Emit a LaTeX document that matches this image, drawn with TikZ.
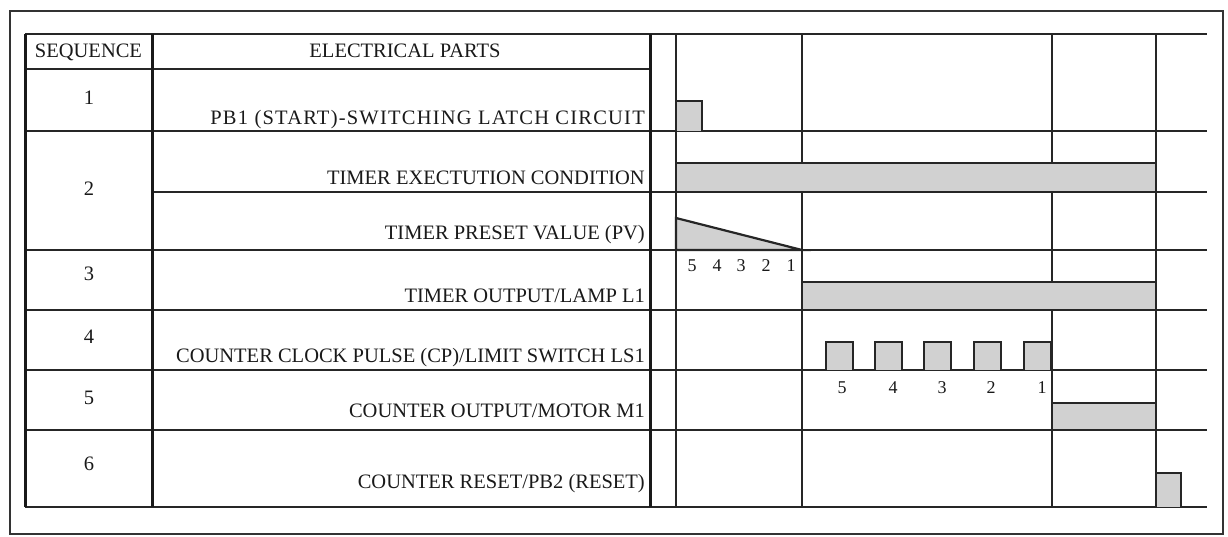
\documentclass[tikz,border=0pt]{standalone}
\usepackage{fontspec}
\setmainfont{Liberation Serif}
\begin{document}
\begin{tikzpicture}[x=1pt,y=-1pt,
  grid/.style={line width=1.9pt, draw=black!85},
  heavygrid/.style={line width=3pt, draw=black!90},
  sig/.style={draw=black!85, line width=2.2pt, fill=black!18},
  lbl/.style={font=\fontsize{20.5}{24}\selectfont, inner sep=0pt, text=black!90},
  num/.style={font=\fontsize{18}{22}\selectfont, inner sep=0pt, text=black!90},
]
\useasboundingbox (0,0) rectangle (1228,537);
% outer frame
\draw[line width=1.8pt, draw=black!80] (10,11) rectangle (1223,534);
% horizontal rules
\draw[grid] (25,34) -- (1207,34);
\draw[grid] (25,69) -- (650,69);
\foreach \y in {131,250,310,370,430,507} \draw[grid] (25,\y) -- (1207,\y);
\draw[grid] (152,192) -- (1207,192);
% vertical rules
\draw[heavygrid] (25,34) -- (25,507);
\draw[heavygrid] (152,34) -- (152,507);
\draw[heavygrid] (650,34) -- (650,507);
\foreach \x in {676,802,1052,1156} \draw[grid] (\x,34) -- (\x,507);
% signals
\draw[sig] (676,131) -- (676,101) -- (702,101) -- (702,131);
\draw[sig] (676,192) rectangle (1156,163);
\draw[sig] (676,250) -- (676,218) -- (802,250) -- cycle;
\draw[sig] (802,310) rectangle (1156,282);
\foreach \a in {826,875,924,974,1024} \draw[sig] (\a,370) -- (\a,342) -- ({\a+27},342) -- ({\a+27},370);
\draw[sig] (1052,430) rectangle (1156,403);
\draw[sig] (1156,507) -- (1156,473) -- (1181,473) -- (1181,507);
% header
\node[lbl, anchor=base] (hseq) at (88.5,58) {SEQUENCE};
\node[lbl, anchor=base] (hparts) at (405,58) {ELECTRICAL PARTS};
% sequence numbers
\node[lbl, anchor=base] (s1) at (89,105) {1};
\node[lbl, anchor=base] (s2) at (89,196) {2};
\node[lbl, anchor=base] (s3) at (89,280) {3};
\node[lbl, anchor=base] (s4) at (89,343) {4};
\node[lbl, anchor=base] (s5) at (89,404) {5};
\node[lbl, anchor=base] (s6) at (89,470) {6};
% parts
\node[lbl, anchor=base east] (p1) at (645,125) {\addfontfeature{LetterSpace=6}PB1 (START)-SWITCHING LATCH CIRCUIT};
\node[lbl, anchor=base east] (p2) at (645,185) {TIMER EXECTUTION CONDITION};
\node[lbl, anchor=base east] (p3) at (645,240) {TIMER PRESET VALUE (PV)};
\node[lbl, anchor=base east] (p4) at (645,302) {TIMER OUTPUT/LAMP L1};
\node[lbl, anchor=base east] (p5) at (645,362) {COUNTER CLOCK PULSE (CP)/LIMIT SWITCH LS1};
\node[lbl, anchor=base east] (p6) at (645,417) {COUNTER OUTPUT/MOTOR M1};
\node[lbl, anchor=base east] (p7) at (645,488) {COUNTER RESET/PB2 (RESET)};
% timer countdown
\node[num, anchor=base] (t5) at (692,272) {5};
\node[num, anchor=base] (t4) at (717,272) {4};
\node[num, anchor=base] (t3) at (741,272) {3};
\node[num, anchor=base] (t2) at (766,272) {2};
\node[num, anchor=base] (t1) at (791,272) {1};
% counter countdown
\node[num, anchor=base] (c5) at (842,393) {5};
\node[num, anchor=base] (c4) at (893,393) {4};
\node[num, anchor=base] (c3) at (942,393) {3};
\node[num, anchor=base] (c2) at (991,393) {2};
\node[num, anchor=base] (c1) at (1042,393) {1};
\end{tikzpicture}
\end{document}
